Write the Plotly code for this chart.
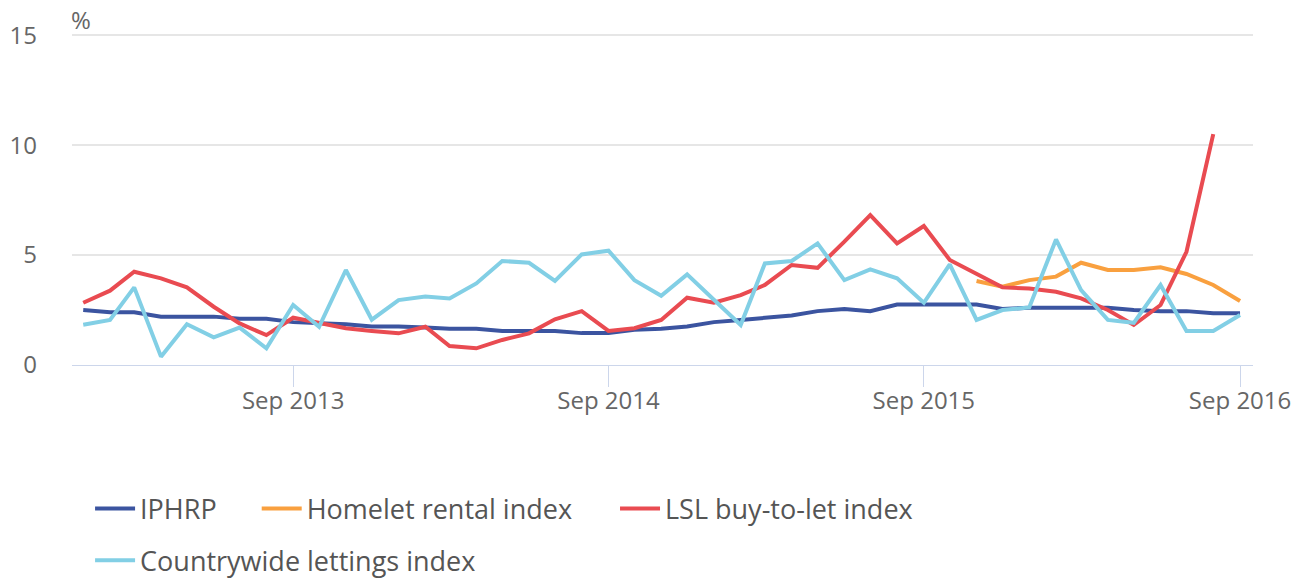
import plotly.graph_objects as go
import pandas as pd

months = pd.date_range("2013-01-01", "2016-09-01", freq="MS")

iphrp = [2.5, 2.4, 2.4, 2.2, 2.2, 2.2, 2.1, 2.1, 1.95, 1.9, 1.85, 1.75,
         1.75, 1.7, 1.65, 1.65, 1.55, 1.55, 1.55, 1.45, 1.45, 1.6, 1.65, 1.75,
         1.95, 2.05, 2.15, 2.25, 2.45, 2.55, 2.45, 2.75, 2.75, 2.75, 2.75, 2.55,
         2.6, 2.6, 2.6, 2.6, 2.5, 2.45, 2.45, 2.35, 2.35]

homelet = [None] * 34 + [3.82, 3.56, 3.86, 4.02, 4.65, 4.32, 4.32, 4.44, 4.14, 3.64, 2.91]

lsl = [2.83, 3.38, 4.24, 3.94, 3.53, 2.65, 1.89, 1.36, 2.15, 1.92, 1.67, 1.55,
       1.44, 1.74, 0.86, 0.76, 1.14, 1.44, 2.08, 2.45, 1.55, 1.67, 2.05, 3.06,
       2.83, 3.18, 3.64, 4.55, 4.42, 5.61, 6.82, 5.53, 6.32, 4.78, 4.17, 3.53,
       3.48, 3.33, 3.03, 2.5, 1.82, 2.73, 5.15, 10.5, None]

countrywide = [1.83, 2.05, 3.53, 0.38, 1.85, 1.26, 1.70, 0.76, 2.73, 1.74, 4.32, 2.06,
               2.95, 3.11, 3.03, 3.71, 4.73, 4.65, 3.82, 5.03, 5.20, 3.86, 3.15, 4.12,
               2.97, 1.82, 4.62, 4.73, 5.53, 3.86, 4.35, 3.94, 2.83, 4.58, 2.05, 2.5,
               2.62, 5.71, 3.41, 2.05, 1.92, 3.64, 1.55, 1.55, 2.27]

tick_dates = ["2013-09-01", "2014-09-01", "2015-09-01", "2016-09-01"]
tick_labels = ["Sep 2013", "Sep 2014", "Sep 2015", "Sep 2016"]

series = [
    ("IPHRP", iphrp, "#3b54a0", "legend"),
    ("Homelet rental index", homelet, "#f9a03f", "legend2"),
    ("LSL buy-to-let index", lsl, "#e94b51", "legend3"),
    ("Countrywide lettings index", countrywide, "#82cfe5", "legend4"),
]

fig = go.Figure()
for name, vals, color, leg in series:
    fig.add_trace(go.Scatter(
        x=months, y=vals, name=name, mode="lines",
        line=dict(color=color, width=4),
        connectgaps=False, legend=leg,
    ))

font_family = "Open Sans, sans-serif"
leg_font = dict(size=27, color="#555555", family=font_family)


def leg(x, y):
    return dict(orientation="h", x=x, xanchor="left", y=y, yanchor="top",
                font=leg_font, itemwidth=40, bgcolor="rgba(0,0,0,0)")


fig.update_layout(
    width=1296, height=570,
    margin=dict(l=64, r=51, t=25, b=213, autoexpand=False),
    paper_bgcolor="white", plot_bgcolor="white",
    font=dict(family=font_family, color="#666666", size=24),
    showlegend=True,
    legend=leg(0.0153, -0.360),
    legend2=leg(0.1564, -0.360),
    legend3=leg(0.4598, -0.360),
    legend4=leg(0.0153, -0.516),
    xaxis=dict(
        type="date",
        range=["2012-12-19", "2016-09-16"],
        tickmode="array", tickvals=tick_dates, ticktext=tick_labels,
        showgrid=False, showline=True, linecolor="#ccd6eb", linewidth=1,
        ticks="outside", ticklen=21, tickcolor="#ccd6eb", tickwidth=1,
        tickfont=dict(size=24, color="#666666"),
        ticklabelstandoff=-7,
        zeroline=False,
    ),
    yaxis=dict(
        range=[0, 15.1], tickvals=[0, 5, 10, 15],
        showgrid=True, gridcolor="#e6e6e6", gridwidth=2,
        zeroline=False, showline=False, ticks="",
        tickfont=dict(size=24, color="#666666"),
        ticklabelstandoff=34,
    ),
    annotations=[dict(
        text="%", xref="paper", yref="paper", x=0, y=1, xanchor="left",
        yanchor="bottom", xshift=-3, yshift=-5, showarrow=False,
        font=dict(size=24, color="#666666", family=font_family),
    )],
)

fig.write_html("out.html")
